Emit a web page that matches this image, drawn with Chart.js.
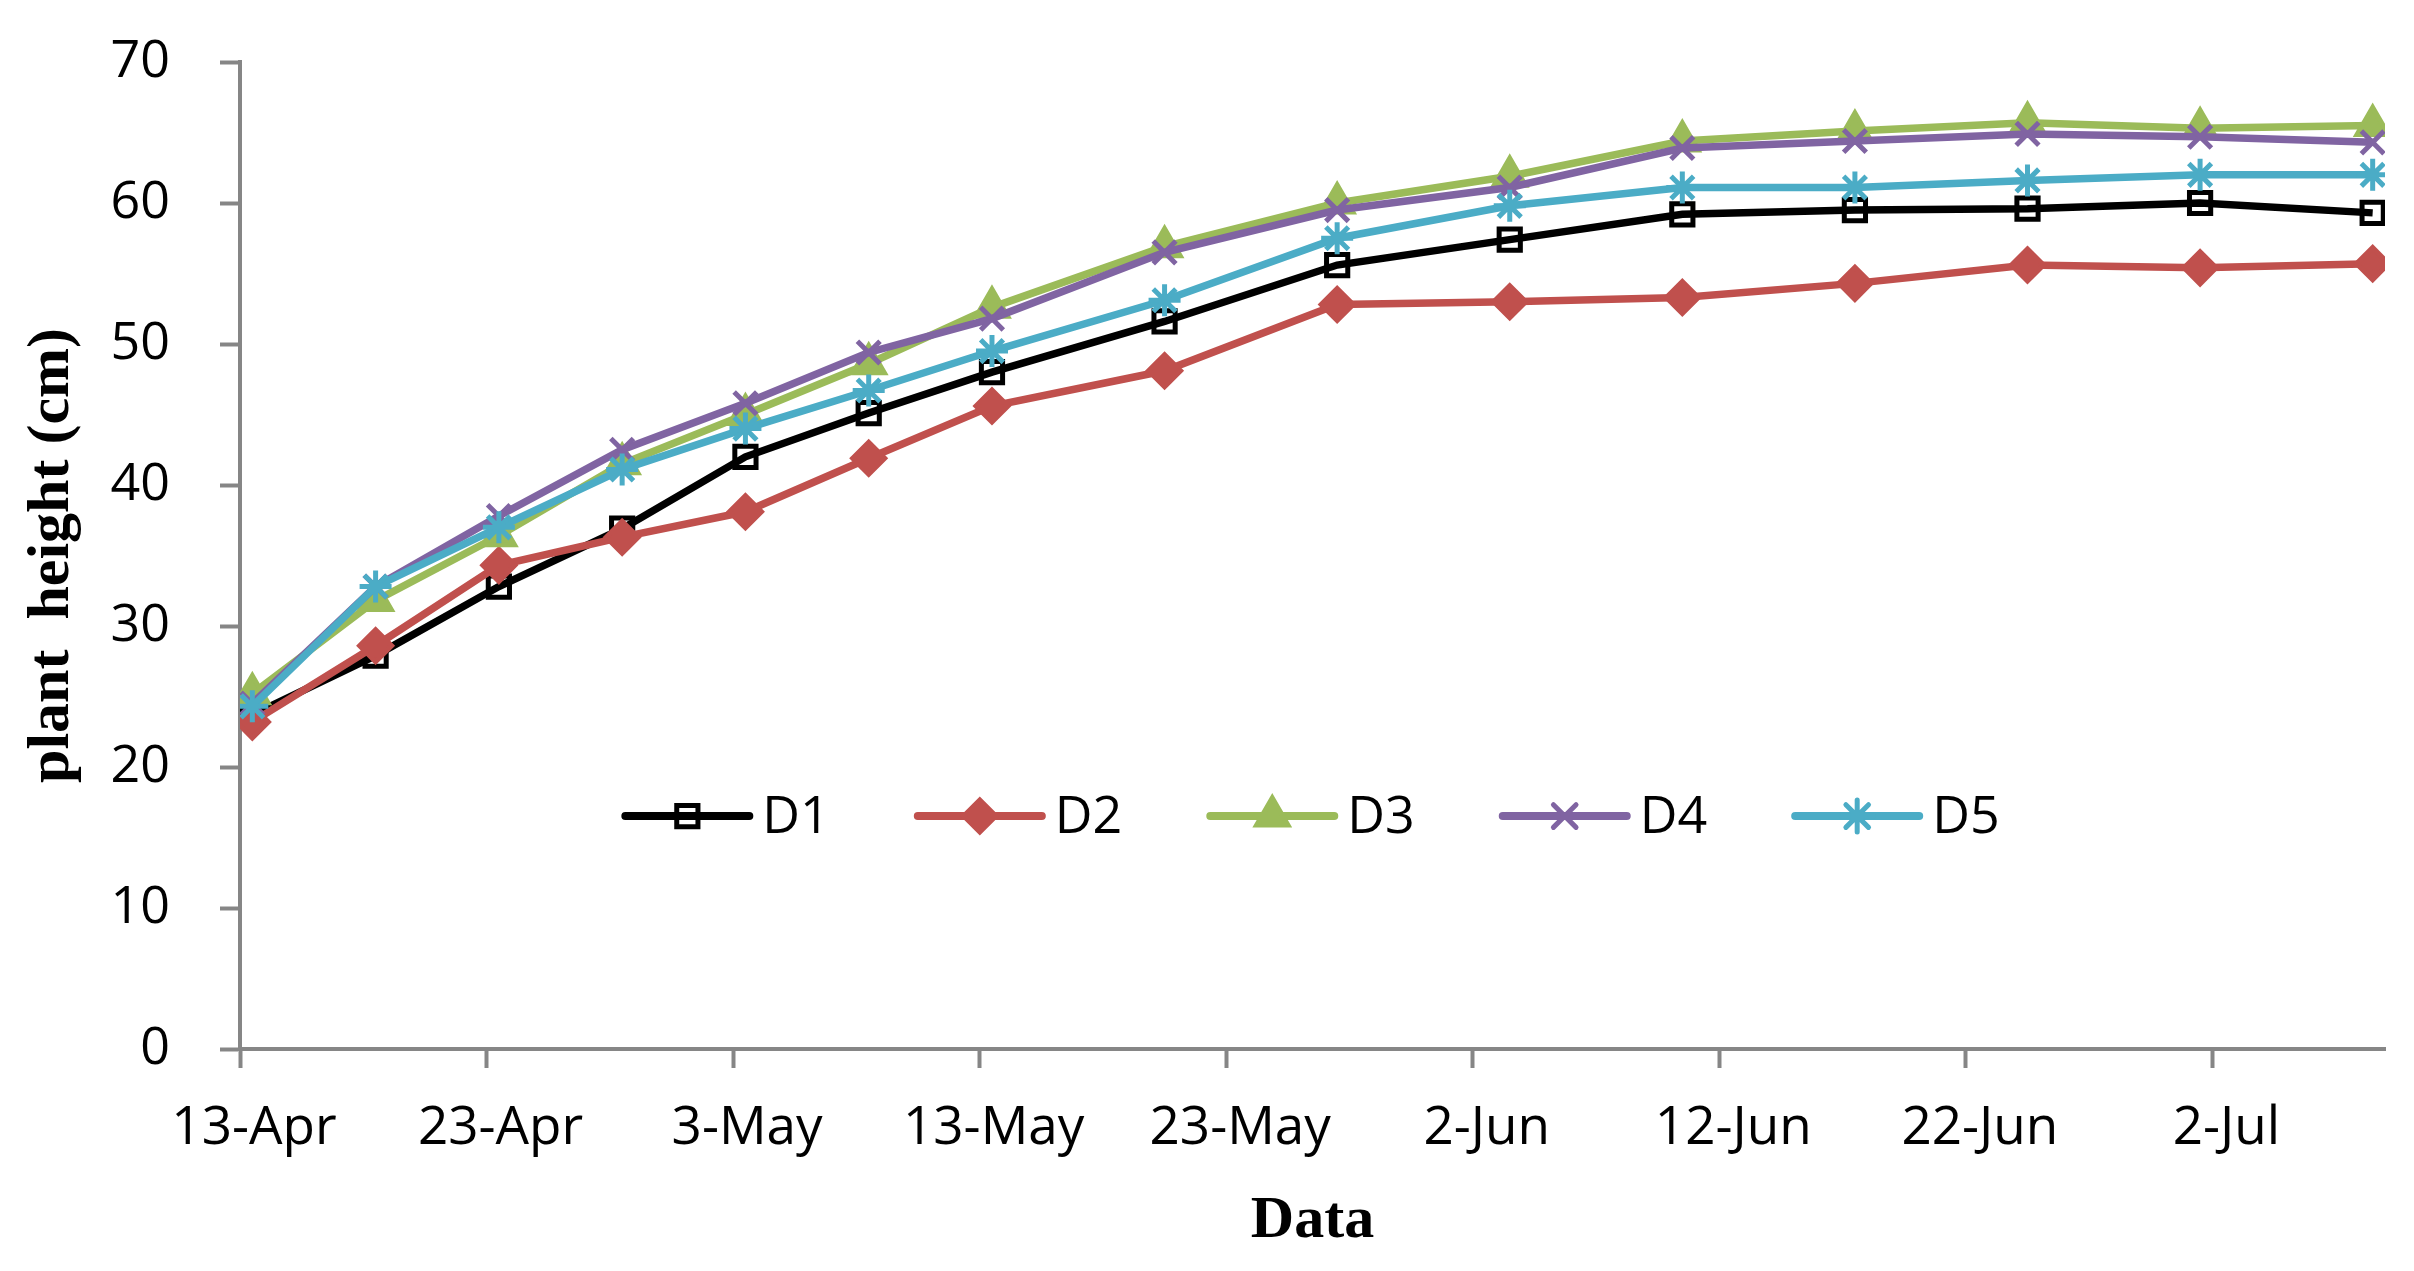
<!DOCTYPE html>
<html>
<head>
<meta charset="utf-8">
<script src="https://cdn.jsdelivr.net/npm/chart.js@4.4.1/dist/chart.umd.min.js"></script>
<style>
  html, body { margin: 0; padding: 0; background: #fff; }
  #wrap { position: relative; width: 2414px; height: 1271px; }
</style>
</head>
<body>
<div id="wrap"><canvas id="chart"></canvas></div>
<script>
// days after 13-Apr on which plants were measured
const days = [0, 5, 10, 15, 20, 25, 30, 37, 44, 51, 58, 65, 72, 79, 86]

const d1 = [23.7, 27.9, 32.8, 36.9, 42.0, 45.1, 48.0, 51.6, 55.6, 57.4, 59.2, 59.5, 59.6, 60.0, 59.3]
const d2 = [23.2, 28.6, 34.3, 36.3, 38.1, 41.9, 45.6, 48.1, 52.8, 53.0, 53.3, 54.3, 55.6, 55.4, 55.7]
const d3 = [25.2, 31.8, 36.4, 41.5, 45.0, 48.6, 52.6, 56.9, 60.0, 61.9, 64.4, 65.1, 65.7, 65.3, 65.5]
const d4 = [24.5, 32.8, 37.8, 42.5, 45.8, 49.4, 51.8, 56.5, 59.5, 61.1, 63.9, 64.4, 64.9, 64.7, 64.3]
const d5 = [24.3, 32.8, 37.0, 41.1, 44.0, 46.7, 49.5, 53.1, 57.5, 59.8, 61.1, 61.1, 61.6, 62.0, 62.0]

const tickDays = [0, 10, 20, 30, 40, 50, 60, 70, 80]
const tickLabels = ['13-Apr', '23-Apr', '3-May', '13-May', '23-May', '2-Jun', '12-Jun', '22-Jun', '2-Jul']

const axisGray = '#868686'

const series = [
  { label: 'D1', values: d1, color: '#000000', style: 'rect', radius: 15, fill: 'rgba(0,0,0,0)' },
  { label: 'D2', values: d2, color: '#C0504D', style: 'rectRot', radius: 16 },
  { label: 'D3', values: d3, color: '#9BBB59', style: 'triangle', radius: 18 },
  { label: 'D4', values: d4, color: '#8064A2', style: 'crossRot', radius: 16 },
  { label: 'D5', values: d5, color: '#4BACC6', style: 'star', radius: 16 }
]

const datasets = series.map((s, i) => ({
  label: s.label,
  data: s.values.map((v, j) => ({ x: days[j], y: v })),
  borderColor: s.color,
  borderWidth: 7.5,
  pointStyle: s.style,
  pointRadius: s.radius,
  pointBackgroundColor: s.fill || s.color,
  pointBorderColor: s.color,
  pointBorderWidth: 5,
  tension: 0,
  // excel paints later series over earlier ones
  order: series.length - i
}))

// legend drawn inside the plot, line + marker + name like excel
const insideLegend = {
  id: 'insideLegend',
  afterDraw(chart) {
    const { ctx, chartArea } = chart
    const lineLen = 124
    const gap = 13
    const spacing = 88
    const y = chartArea.top + (chartArea.bottom - chartArea.top) * 0.764
    ctx.save()
    ctx.font = '52px "Open Sans"'
    ctx.textBaseline = 'middle'
    ctx.textAlign = 'left'
    const widths = chart.data.datasets.map(ds => lineLen + gap + ctx.measureText(ds.label).width)
    const total = widths.reduce((a, b) => a + b, 0) + spacing * (widths.length - 1)
    let x = (chartArea.left + chartArea.right) / 2 - total / 2
    chart.data.datasets.forEach((ds, i) => {
      ctx.strokeStyle = ds.borderColor
      ctx.lineWidth = 8
      ctx.lineCap = 'round'
      ctx.beginPath()
      ctx.moveTo(x, y)
      ctx.lineTo(x + lineLen, y)
      ctx.stroke()
      ctx.fillStyle = ds.pointBackgroundColor
      ctx.lineWidth = ds.pointBorderWidth
      Chart.helpers.drawPoint(ctx, {
        pointStyle: ds.pointStyle,
        radius: ds.pointRadius,
        borderWidth: ds.pointBorderWidth,
        rotation: 0
      }, x + lineLen / 2, y)
      ctx.fillStyle = '#000'
      ctx.fillText(ds.label, x + lineLen + gap, y + 2)
      x += widths[i] + spacing
    })
    ctx.restore()
  }
}

Chart.defaults.font.family = '"Open Sans", sans-serif'
Chart.defaults.color = '#000'

new Chart(document.getElementById('chart'), {
  type: 'line',
  data: { datasets },
  plugins: [insideLegend],
  options: {
    responsive: true,
    maintainAspectRatio: false,
    devicePixelRatio: 1,
    animation: false,
    layout: { padding: { top: 62, right: 29, left: 0, bottom: 0 } },
    plugins: {
      legend: { display: false },
      tooltip: { enabled: false }
    },
    scales: {
      x: {
        type: 'linear',
        // each point sits in the middle of its day, ticks at day starts
        min: days[0] - 0.5,
        max: days[days.length - 1] + 0.5,
        afterBuildTicks: scale => {
          scale.ticks = tickDays.map(d => ({ value: d - 0.5 }))
        },
        afterFit: scale => { scale.height = 222 },
        ticks: {
          autoSkip: false,
          maxRotation: 0,
          padding: 29,
          labelOffset: 14,
          font: { size: 53 },
          callback: (v, i) => tickLabels[i]
        },
        grid: {
          drawOnChartArea: false,
          drawTicks: true,
          tickLength: 19,
          tickWidth: 4,
          tickColor: axisGray
        },
        border: { display: true, color: axisGray, width: 4 },
        title: {
          display: true,
          text: 'Data',
          font: { family: '"Liberation Serif", serif', weight: 'bold', size: 60 },
          padding: { top: 0, bottom: 14 }
        }
      },
      y: {
        min: 0,
        max: 70,
        afterFit: scale => {
          scale.width = 240
          // the wide label padding should not push the plot down
          scale.paddingTop = 0
          scale.paddingBottom = 0
        },
        ticks: {
          stepSize: 10,
          padding: 50,
          font: { size: 52 }
        },
        grid: {
          drawOnChartArea: false,
          drawTicks: true,
          tickLength: 20,
          tickWidth: 4,
          tickColor: axisGray
        },
        border: { display: true, color: axisGray, width: 4 },
        title: {
          display: true,
          text: 'plant  height (cm)',
          font: { family: '"Liberation Serif", serif', weight: 'bold', size: 60 },
          padding: { top: 16, bottom: 0 }
        }
      }
    }
  }
})
</script>
</body>
</html>
